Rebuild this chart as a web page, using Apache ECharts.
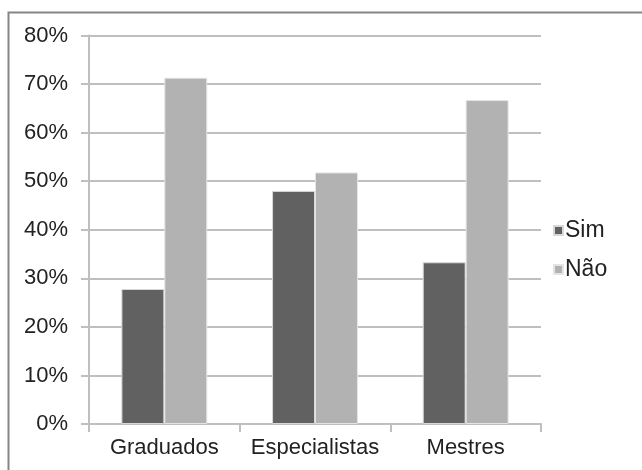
<!DOCTYPE html>
<html>
<head>
<meta charset="utf-8">
<script src="https://cdn.jsdelivr.net/npm/echarts@6/dist/echarts.min.js"></script>
<style>
  html, body { margin: 0; padding: 0; background: #ffffff; }
  #chart { width: 642px; height: 470px; }
</style>
</head>
<body>
<div id="chart"></div>
<script>
// Categories and series values (percent)
const categories = ['Graduados', 'Especialistas', 'Mestres'];
const simValues = [27.8, 48.0, 33.3];
const naoValues = [71.3, 51.8, 66.7];
const seriesNames = ['Sim', 'Não'];

const textColor = '#222222';
const lineColor = '#bfbfbf';
const fontFamily = '"Liberation Sans", Arial, sans-serif';

const chart = echarts.init(document.getElementById('chart'), null, { renderer: 'canvas' });

chart.setOption({
  animation: false,
  backgroundColor: '#ffffff',
  graphic: [{
    type: 'rect',
    shape: { x: 8.5, y: 12.5, width: 700, height: 520 },
    style: { fill: 'none', stroke: '#858585', lineWidth: 2 },
    silent: true
  }],
  grid: { left: 89, right: 101, top: 35.5, bottom: 46, containLabel: false },
  legend: {
    orient: 'vertical',
    left: 548,
    top: 214,
    icon: 'rect',
    itemWidth: 9,
    itemHeight: 9,
    itemGap: 16,
    textStyle: { fontSize: 23, lineHeight: 23, color: textColor, fontFamily: fontFamily, padding: [0, 0, 0, -3] },
    data: seriesNames
  },
  xAxis: {
    type: 'category',
    data: categories,
    axisLine: { lineStyle: { color: lineColor, width: 2 } },
    axisTick: { show: true, length: 8, lineStyle: { color: lineColor, width: 2 } },
    axisLabel: { interval: 0, fontSize: 22, color: textColor, fontFamily: fontFamily, margin: 13 }
  },
  yAxis: {
    type: 'value',
    min: 0,
    max: 80,
    interval: 10,
    axisLine: { show: true, lineStyle: { color: lineColor, width: 2 } },
    axisTick: { show: true, length: 8, lineStyle: { color: lineColor, width: 2 } },
    axisLabel: { fontSize: 22, color: textColor, fontFamily: fontFamily, margin: 21, formatter: '{value}%' },
    splitLine: { show: true, lineStyle: { color: lineColor, width: 2 } }
  },
  series: [
    {
      name: seriesNames[0],
      type: 'bar',
      data: simValues,
      barGap: '0%',
      barCategoryGap: '43%',
      itemStyle: { color: '#616161', borderColor: '#d8d8d8', borderWidth: 1 }
    },
    {
      name: seriesNames[1],
      type: 'bar',
      data: naoValues,
      barGap: '0%',
      barCategoryGap: '43%',
      itemStyle: { color: '#b2b2b2', borderColor: '#e4e4e4', borderWidth: 1 }
    }
  ]
});
</script>
</body>
</html>
